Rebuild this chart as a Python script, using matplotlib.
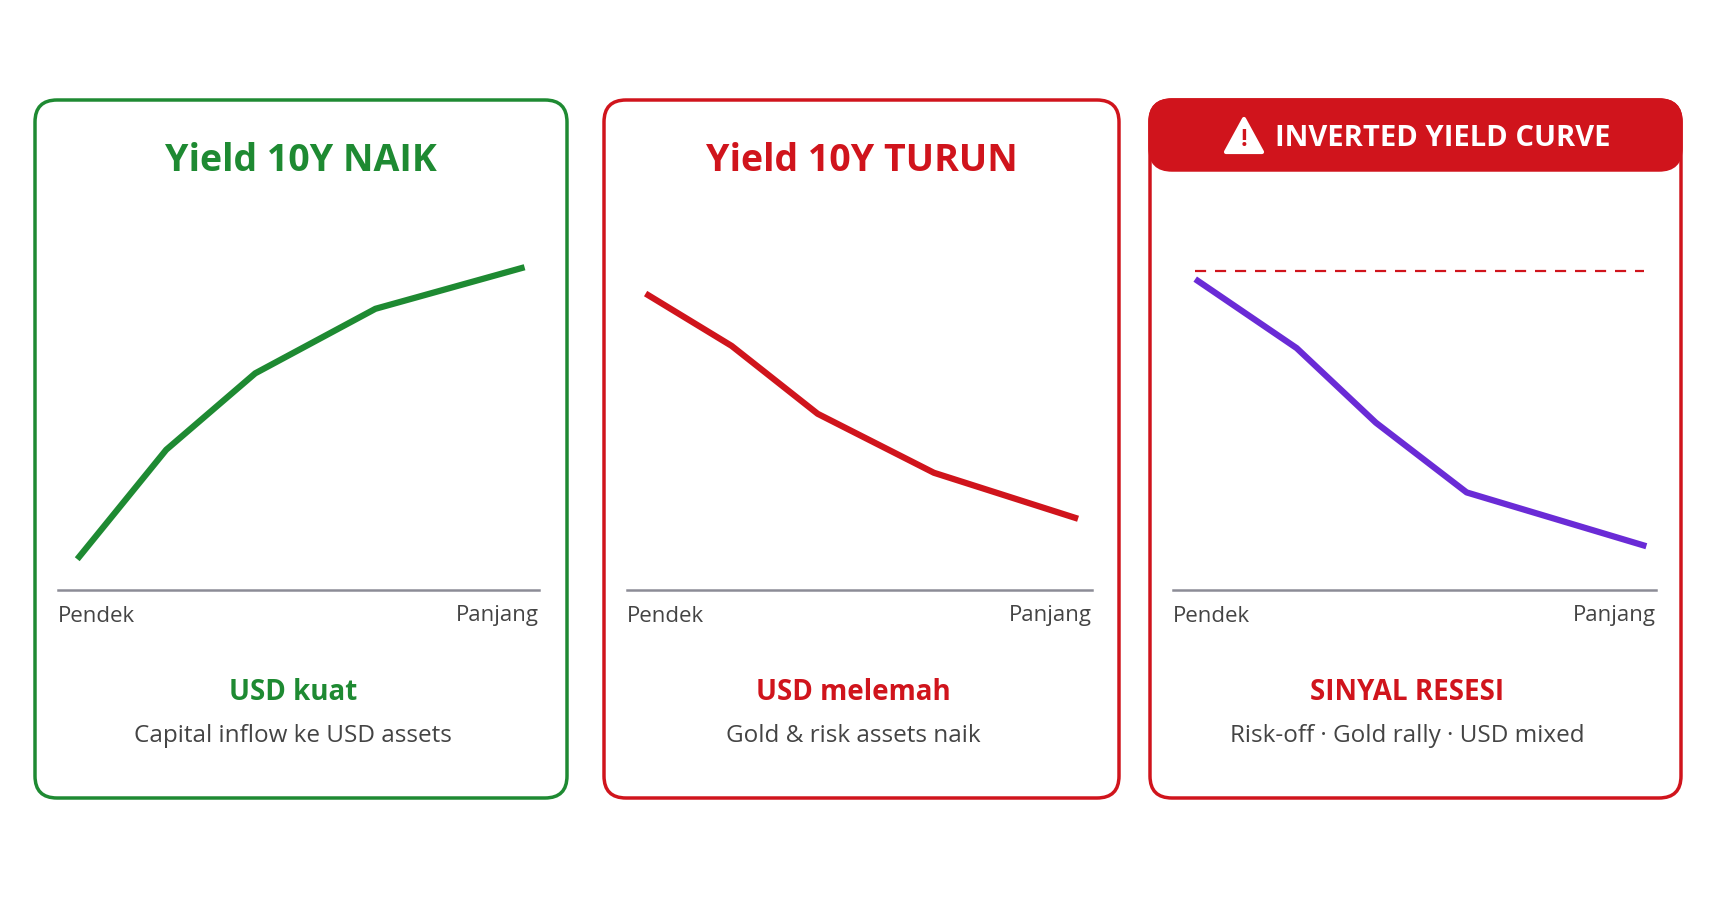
import matplotlib
matplotlib.use("Agg")
import matplotlib.pyplot as plt
from matplotlib.patches import FancyBboxPatch, Polygon

plt.rcParams['font.family'] = ['Open Sans', 'DejaVu Sans']

tenor = [0.04, 0.225, 0.41, 0.66, 0.97]
tenor3 = [0.046, 0.256, 0.42, 0.608, 0.98]
yield_naik = [0.83, 3.78, 5.84, 7.58, 8.70]
yield_turun = [7.99, 6.58, 4.75, 3.16, 1.92]
yield_inverted = [8.38, 6.52, 4.51, 2.63, 1.18]
short_rate_ref = 8.61
titles = ["Yield 10Y NAIK", "Yield 10Y TURUN", None]
subtitles = ["USD kuat", "USD melemah", "SINYAL RESESI"]
descs = ["Capital inflow ke USD assets", "Gold & risk assets naik",
         "Risk-off · Gold rally · USD mixed"]
xlabels = ("Pendek", "Panjang")

W, H = 1717, 916
fig = plt.figure(figsize=(W/100, H/100), dpi=100)
bg = fig.add_axes([0, 0, 1, 1])
bg.set_xlim(0, W); bg.set_ylim(H, 0); bg.axis('off')

GREEN = "#1e8a32"; RED = "#d0141c"; PURPLE = "#6a2bd6"
GRAY = "#444444"; AXIS = "#8c8c96"

panels = [(35, 567, GREEN), (604, 1119, RED), (1150, 1681, RED)]
base = [(58, 539), (627, 1092), (1173, 1656)]
series = [(tenor, yield_naik, GREEN), (tenor, yield_turun, RED), (tenor3, yield_inverted, PURPLE)]
top_px, base_px = 219, 590

for i, ((x0, x1, col), (bx0, bx1), (xs, ys, lc)) in enumerate(zip(panels, base, series)):
    bg.add_patch(FancyBboxPatch((x0, 100), x1-x0, 698, boxstyle="round,pad=0,rounding_size=22",
                                fc="white", ec=col, lw=2.5))
    cx = (x0+x1)/2
    if titles[i]:
        bg.text(cx, 161, titles[i], color=col, fontsize=27, fontweight='bold', ha='center', va='center')
    else:
        bg.add_patch(FancyBboxPatch((x0, 100), x1-x0, 70, boxstyle="round,pad=0,rounding_size=22",
                                    fc=RED, ec=RED, lw=2.5))
        bg.add_patch(Polygon([[1226, 152], [1262, 152], [1244, 119]], closed=True, fc="white",
                             ec="white", lw=3, joinstyle='round'))
        bg.text(1244, 140, "!", color=RED, fontsize=17, fontweight='bold', ha='center', va='center')
        bg.text(1275, 138, "INVERTED YIELD CURVE", color="white", fontsize=21, fontweight='bold',
                ha='left', va='center')
    bg.plot([bx0, bx1], [base_px, base_px], color=AXIS, lw=1.8)
    bg.text(bx0, 616, xlabels[0], color=GRAY, fontsize=16, ha='left', va='center')
    bg.text(bx1, 616, xlabels[1], color=GRAY, fontsize=16, ha='right', va='center')
    bg.text(cx - 8, 693, subtitles[i], color=col, fontsize=20, fontweight='bold', ha='center', va='center')
    bg.text(cx - 8, 736, descs[i], color=GRAY, fontsize=17.5, ha='center', va='center')

    ax = fig.add_axes([bx0/W, 1-base_px/H, (bx1-bx0)/W, (base_px-top_px)/H])
    ax.set_xlim(0, 1); ax.set_ylim(0, 10); ax.axis('off')
    ax.plot(xs, ys, color=lc, lw=4.5, solid_capstyle='butt')
    if i == 2:
        ax.plot([xs[0], 0.975], [short_rate_ref]*2, color=RED, lw=1.6, dashes=(5, 4))

fig.savefig("out.png", dpi=100, facecolor="white")
